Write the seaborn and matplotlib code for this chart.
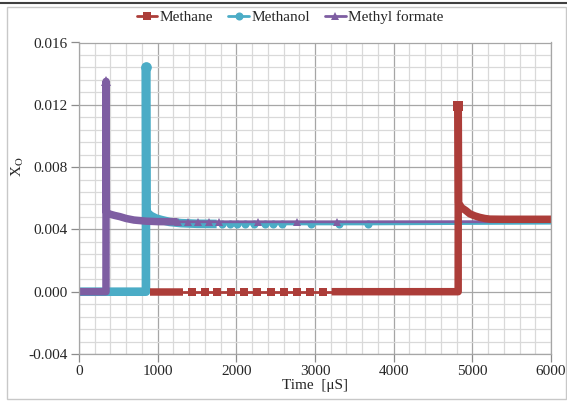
import numpy as np
import pandas as pd
import seaborn as sns
import matplotlib
matplotlib.use("Agg")
import matplotlib.pyplot as plt
from matplotlib.lines import Line2D
from matplotlib.patches import Rectangle
from matplotlib.ticker import MultipleLocator, FixedLocator

# ---- data: oxygen-atom mole fraction X_O vs time [µs] ----
series_names = ["Methane", "Methanol", "Methyl formate"]

# Methane: densely sampled runs (drawn as a solid band) and sparse samples
methane_dense_t = [[900, 1320],
                   [3211, 4820, 4821, 4826, 4862, 4920, 4968, 5030, 5095, 5160, 5222, 5400, 6000]]
methane_dense_x = [[0.0, 0.0],
                   [0.0, 0.0, 0.0119, 0.0057, 0.0054, 0.0052, 0.0050, 0.00487, 0.00477,
                    0.0047, 0.00466, 0.00465, 0.00465]]
methane_t = [1320, 1432, 1598, 1757, 1927, 2097, 2266, 2436, 2605, 2766, 2935, 3104, 3211]
methane_x = [0.0, 0.0, 0.0, 0.0, 0.0, 0.0, 0.0, 0.0, 0.0, 0.0, 0.0, 0.0, 0.0]

# Methanol
methanol_dense_t = [[0, 851, 852, 856, 880, 920, 980, 1050, 1150, 1300, 1500, 1750]]
methanol_dense_x = [[0.0, 0.0, 0.0144, 0.0052, 0.0050, 0.00485, 0.0047, 0.0046,
                     0.00448, 0.0044, 0.00436, 0.00435]]
methanol_t = [1750, 1817, 1919, 2008, 2109, 2224, 2363, 2465, 2579, 2948, 3304, 3672, 6000]
methanol_x = [0.00435, 0.00435, 0.00435, 0.00435, 0.00435, 0.00435, 0.00435, 0.00435,
              0.00435, 0.00435, 0.00435, 0.00435, 0.0044]

# Methyl formate
mf_dense_t = [[0, 343, 344, 348, 380, 450, 520, 600, 700, 850, 1000, 1250]]
mf_dense_x = [[0.0, 0.0, 0.0135, 0.0051, 0.0050, 0.0049, 0.00482, 0.0047, 0.0046,
               0.00453, 0.0045, 0.00449]]
mf_t = [1250, 1258, 1385, 1512, 1652, 1779, 2274, 2770, 3278, 6000]
mf_x = [0.00449, 0.00449, 0.00449, 0.00449, 0.00449, 0.00449, 0.00449, 0.00449, 0.00449, 0.0045]

x_ticks = [0, 1000, 2000, 3000, 4000, 5000, 6000]
y_ticks = [-0.004, 0.0, 0.004, 0.008, 0.012, 0.016]

colors = {"Methane": "#AC3D39", "Methanol": "#4BACC6", "Methyl formate": "#7E5EA2"}
markers = {"Methane": "s", "Methanol": "o", "Methyl formate": "^"}
band_widths = {"Methane": 5.4, "Methanol": 6.2, "Methyl formate": 5.4}

sns.set_style("white")
plt.rcParams["font.family"] = ["Liberation Serif", "DejaVu Serif"]
plt.rcParams["mathtext.fontset"] = "stix"

fig = plt.figure(figsize=(5.67, 4.03), dpi=100)
ax = fig.add_axes([79 / 567, 1 - 354 / 403, (551 - 79) / 567, (354 - 42.5) / 403])

THIN = 2.0
MS = 5.8


def draw_series(name, dense_t, dense_x, t, x):
    c = colors[name]
    m = markers[name]
    bw = band_widths[name]
    # thin connecting line with markers at the sparse samples (not at the end points)
    sns.lineplot(x=t, y=x, ax=ax, color=c, linewidth=THIN, sort=False, estimator=None,
                 marker=m, markersize=MS, markeredgewidth=0,
                 markevery=list(range(1, len(t) - 1)), legend=False)
    # densely sampled stretches appear as a solid band of overlapping markers
    for tt, xx in zip(dense_t, dense_x):
        peak = int(np.argmax(xx))
        mark = [peak] if xx[peak] > 0 else []
        sns.lineplot(x=tt, y=xx, ax=ax, color=c, linewidth=bw, sort=False,
                     estimator=None, legend=False, marker=m, markersize=bw + 1.5,
                     markeredgewidth=0, markevery=mark,
                     solid_joinstyle="round", solid_capstyle="butt")


draw_series("Methanol", methanol_dense_t, methanol_dense_x, methanol_t, methanol_x)
draw_series("Methyl formate", mf_dense_t, mf_dense_x, mf_t, mf_x)
draw_series("Methane", methane_dense_t, methane_dense_x, methane_t, methane_x)

ax.set_xlim(0, 6000)
ax.set_ylim(-0.004, 0.016)
ax.xaxis.set_major_locator(FixedLocator(x_ticks))
ax.yaxis.set_major_locator(FixedLocator(y_ticks))
ax.xaxis.set_minor_locator(MultipleLocator(200))
ax.yaxis.set_minor_locator(MultipleLocator(0.0008))
ax.set_xticklabels([str(v) for v in x_ticks])
ax.set_yticklabels([f"{v:.3f}" for v in y_ticks])

ax.grid(True, which="major", color="#a6a6a6", linewidth=0.9)
ax.grid(True, which="minor", color="#d9d9d9", linewidth=0.9)
ax.set_axisbelow(True)
for s in ax.spines.values():
    s.set_color("#a6a6a6")
    s.set_linewidth(0.9)
ax.tick_params(axis="both", which="major", direction="out", length=5.5, width=0.9,
               color="#8c8c8c", labelsize=11, pad=2.5, left=True, bottom=True)
ax.tick_params(axis="both", which="minor", length=0)
ax.set_xlabel("")
ax.set_ylabel("")

fig.text(315 / 567, 1 - 385 / 403, "Time  [\u03bcS]", ha="center", va="center", fontsize=11)
fig.text(18 / 567, 1 - 167 / 403, r"X$_\mathrm{O}$", ha="center", va="center",
         rotation=90, fontsize=11)

handles = [Line2D([0], [0], color=colors[n], lw=THIN, marker=markers[n], markersize=MS,
                  markeredgewidth=0) for n in series_names]
fig.legend(handles, series_names, loc="center", bbox_to_anchor=(290 / 567, 1 - 17 / 403),
           ncol=3, frameon=False, fontsize=11, handlelength=1.35, handletextpad=0.15,
           columnspacing=1.0, borderaxespad=0, borderpad=0)

# chart-area border and page rule
fig.patches.append(Rectangle((7 / 567, 1 - 399 / 403), (566 - 7) / 567, (399 - 7) / 403,
                             transform=fig.transFigure, fill=False, edgecolor="#c8c8c8",
                             linewidth=1.0))
fig.lines.append(Line2D([0, 1], [1 - 3 / 403, 1 - 3 / 403], transform=fig.transFigure,
                        color="#404040", linewidth=1.5))

fig.savefig("out.png", dpi=100)
